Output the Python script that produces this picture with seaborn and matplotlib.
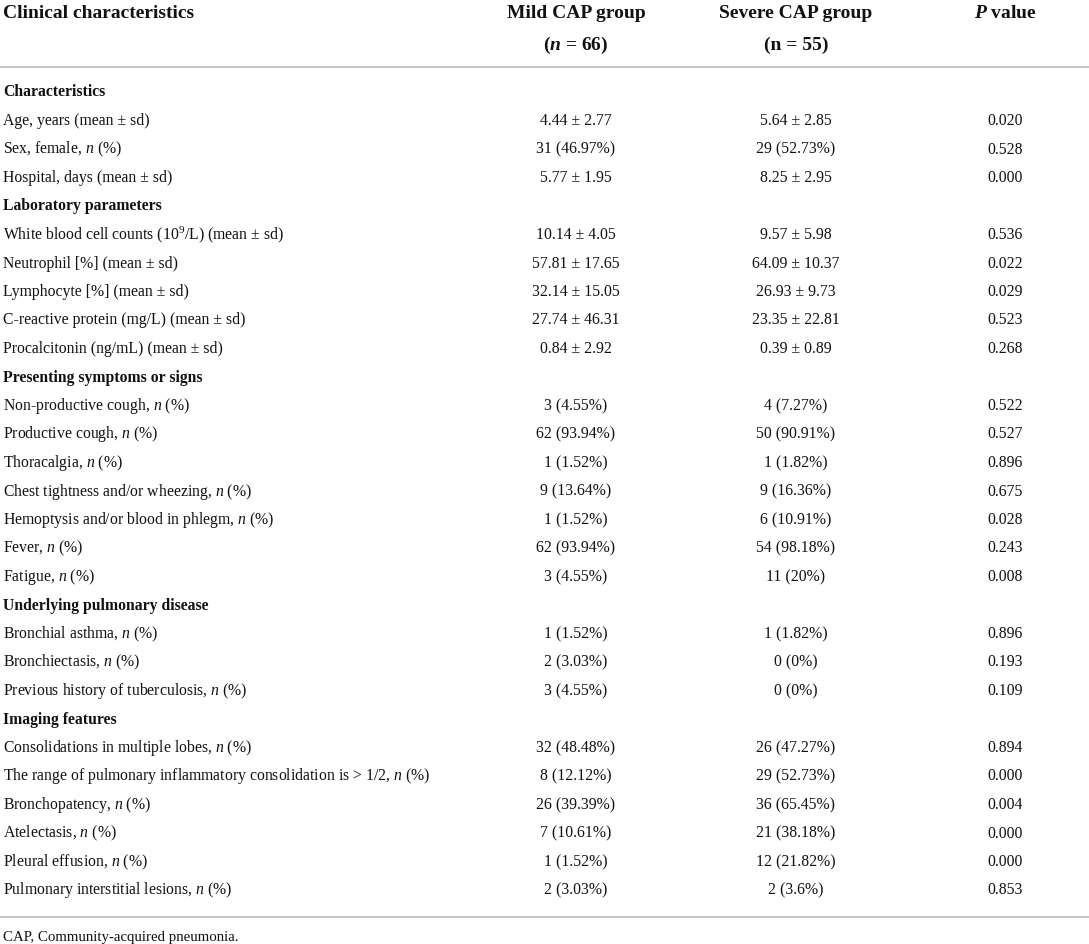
import matplotlib
matplotlib.use("Agg")
import matplotlib.pyplot as plt
import seaborn as sns

# table content
row_labels = [
    "Characteristics",
    "Age, years (mean ± sd)",
    "Sex, female, $n$ (%)",
    "Hospital, days (mean ± sd)",
    "Laboratory parameters",
    "White blood cell counts (10$^{9}$/L) (mean ± sd)",
    "Neutrophil [%] (mean ± sd)",
    "Lymphocyte [%] (mean ± sd)",
    "C-reactive protein (mg/L) (mean ± sd)",
    "Procalcitonin (ng/mL) (mean ± sd)",
    "Presenting symptoms or signs",
    "Non-productive cough, $n$ (%)",
    "Productive cough, $n$ (%)",
    "Thoracalgia, $n$ (%)",
    "Chest tightness and/or wheezing, $n$ (%)",
    "Hemoptysis and/or blood in phlegm, $n$ (%)",
    "Fever, $n$ (%)",
    "Fatigue, $n$ (%)",
    "Underlying pulmonary disease",
    "Bronchial asthma, $n$ (%)",
    "Bronchiectasis, $n$ (%)",
    "Previous history of tuberculosis, $n$ (%)",
    "Imaging features",
    "Consolidations in multiple lobes, $n$ (%)",
    "The range of pulmonary inflammatory consolidation is > 1/2, $n$ (%)",
    "Bronchopatency, $n$ (%)",
    "Atelectasis, $n$ (%)",
    "Pleural effusion, $n$ (%)",
    "Pulmonary interstitial lesions, $n$ (%)",
]
section_rows = [0, 4, 10, 18, 22]

mild_values = [
    "", "4.44 ± 2.77", "31 (46.97%)", "5.77 ± 1.95",
    "", "10.14 ± 4.05", "57.81 ± 17.65", "32.14 ± 15.05", "27.74 ± 46.31", "0.84 ± 2.92",
    "", "3 (4.55%)", "62 (93.94%)", "1 (1.52%)", "9 (13.64%)", "1 (1.52%)", "62 (93.94%)", "3 (4.55%)",
    "", "1 (1.52%)", "2 (3.03%)", "3 (4.55%)",
    "", "32 (48.48%)", "8 (12.12%)", "26 (39.39%)", "7 (10.61%)", "1 (1.52%)", "2 (3.03%)",
]
severe_values = [
    "", "5.64 ± 2.85", "29 (52.73%)", "8.25 ± 2.95",
    "", "9.57 ± 5.98", "64.09 ± 10.37", "26.93 ± 9.73", "23.35 ± 22.81", "0.39 ± 0.89",
    "", "4 (7.27%)", "50 (90.91%)", "1 (1.82%)", "9 (16.36%)", "6 (10.91%)", "54 (98.18%)", "11 (20%)",
    "", "1 (1.82%)", "0 (0%)", "0 (0%)",
    "", "26 (47.27%)", "29 (52.73%)", "36 (65.45%)", "21 (38.18%)", "12 (21.82%)", "2 (3.6%)",
]
p_values = [
    "", "0.020", "0.528", "0.000",
    "", "0.536", "0.022", "0.029", "0.523", "0.268",
    "", "0.522", "0.527", "0.896", "0.675", "0.028", "0.243", "0.008",
    "", "0.896", "0.193", "0.109",
    "", "0.894", "0.000", "0.004", "0.000", "0.000", "0.853",
]
header_line1 = ["Clinical characteristics", "Mild CAP group", "Severe CAP group", "$\\mathbfit{P}$ value"]
header_line2 = ["", "($\\mathbfit{n}$ = 66)", "(n = 55)", ""]
footnote = "CAP, Community-acquired pneumonia."

sns.set_theme(style="white")
plt.rcParams["font.family"] = ["Liberation Serif", "DejaVu Serif"]
plt.rcParams["mathtext.fontset"] = "custom"
plt.rcParams["mathtext.rm"] = "Liberation Serif"
plt.rcParams["mathtext.it"] = "Liberation Serif:italic"
plt.rcParams["mathtext.bf"] = "Liberation Serif:bold"
plt.rcParams["mathtext.bfit"] = "Liberation Serif:italic:bold"

W, H = 1089, 944
fig = plt.figure(figsize=(W / 100, H / 100), dpi=100)
ax = fig.add_axes([0, 0, 1, 1])
ax.set_xlim(0, W)
ax.set_ylim(H, 0)
ax.axis("off")

text_color = "#111111"
rule_color = "#c8c8c8"
body_size = 11.3
head_size = 14
col_x = [3, 576, 796, 1005]

# header
for i, (t1, t2) in enumerate(zip(header_line1, header_line2)):
    ha = "left" if i == 0 else "center"
    ax.text(col_x[i], 13, t1, ha=ha, va="center", fontsize=head_size,
            fontweight="bold", color=text_color)
    if t2:
        ax.text(col_x[i], 45.5, t2, ha=ha, va="center", fontsize=head_size,
                fontweight="bold", color=text_color)

ax.axhline(67, color=rule_color, lw=1.5)

# body rows
y0, dy = 92.5, 28.5
for r, label in enumerate(row_labels):
    y = y0 + dy * r
    bold = r in section_rows
    ax.text(col_x[0], y, label, ha="left", va="center", fontsize=body_size,
            fontweight="bold" if bold else "normal", color=text_color)
    for c, vals in enumerate([mild_values, severe_values, p_values], start=1):
        if vals[r]:
            ax.text(col_x[c], y, vals[r], ha="center", va="center",
                    fontsize=body_size, color=text_color)

ax.axhline(917, color=rule_color, lw=1.5)
ax.text(col_x[0], 938, footnote, ha="left", va="center", fontsize=body_size * 0.95,
        color=text_color)

fig.savefig("out.png", dpi=100, facecolor="white")
